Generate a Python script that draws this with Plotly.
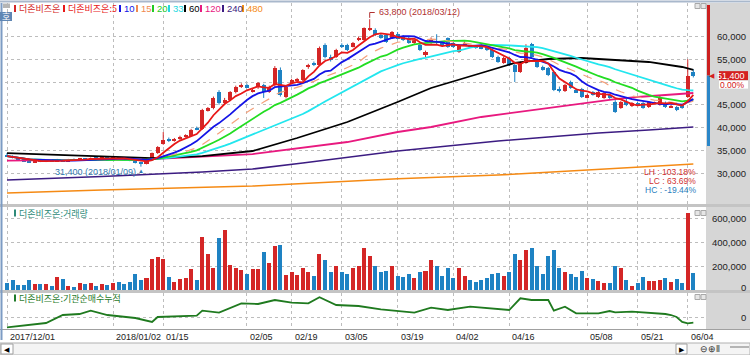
import numpy as np
import pandas as pd
import plotly.graph_objects as go

# ---------------- DATA ----------------
holidays = ["2017-12-25", "2017-12-29", "2018-01-01", "2018-02-15", "2018-02-16",
            "2018-03-01", "2018-05-01", "2018-05-07", "2018-05-22"]
dates = [d.strftime("%Y/%m/%d") for d in pd.bdate_range("2017-12-01", "2018-06-05")
         if d.strftime("%Y-%m-%d") not in holidays]

opens = [34000,33700,33300,33000,32600,32400,32700,32500,32800,32600,
         32900,32600,33000,32900,33200,33000,33300,33100,33400,33200,
         33400,33100,32900,32700,32300,32000,33000,34300,36300,37300,
         37100,37500,38000,38200,39900,39600,43800,44200,47900,45400,
         46000,47800,49000,49300,48000,48900,49300,47800,49300,52600,
         46700,49800,50400,50400,53200,54200,53700,58100,55500,55500,
         58100,58100,57800,59200,59200,61500,61400,60300,60300,59700,
         60500,59900,59700,58600,58100,55900,58600,59000,58600,59600,
         58600,56600,58300,57800,57700,57600,57700,57000,55500,54200,
         55300,53700,52200,54200,58300,54800,53300,53100,52200,48500,
         48000,50000,48200,48500,46700,47800,46700,46500,47100,45600,
         44300,45600,44700,45400,45400,44500,45200,44900,45400,44500,
         44500,44900,46700,52100]
highs = [34400,33900,33500,33200,32900,32900,32900,33000,32900,33100,
         33000,33100,33200,33300,33300,33400,33500,33500,33500,33600,
         33500,33200,33100,32800,32500,33100,34500,35900,39000,37800,
         37700,38200,38500,39700,40200,44100,44500,46800,48200,46500,
         48000,49200,49700,49600,48500,50000,49600,49200,53500,53200,
         49200,50700,50900,52800,54000,54500,57800,58500,56000,57300,
         58500,58400,58800,60000,62000,63800,61800,60600,60500,61200,
         61000,60300,59900,59700,58400,56900,59800,60500,59000,59800,
         58800,58300,58900,58200,58000,57900,58000,57300,55800,55600,
         55600,54000,54500,58300,58600,55200,53600,53300,52400,49000,
         49600,50300,48600,48700,47400,48000,48000,47800,47400,46000,
         45800,46500,45600,45600,45600,45800,45700,47000,45700,45000,
         44700,45000,55000,52800]
lows = [33600,33200,32900,32500,32200,32300,32400,32400,32500,32500,
        32500,32500,32800,32800,32900,32900,33000,33000,33100,33100,
        33000,32800,32600,32100,31400,31900,32900,34200,36200,36800,
        36900,37300,37800,38100,39400,39500,43500,44000,45000,45000,
        45800,47500,48700,48700,47700,48500,46500,47600,49000,46800,
        46400,49500,50100,50200,52900,53500,53500,55200,54500,55300,
        57500,56800,57600,59000,59000,61200,60100,59500,58600,59500,
        59400,59000,58400,58400,56800,55500,58400,58300,57700,57500,
        57500,56400,58100,57500,57300,57200,56800,55300,54200,54000,
        53500,50000,52000,54000,55300,53100,52500,51300,48000,47700,
        47800,48500,47600,46500,46400,47000,46500,46300,46300,43200,
        44100,44700,44500,44800,44100,44300,45100,44800,44300,44300,
        43600,44100,46500,51000]
closes = [33700,33300,33000,32600,32400,32700,32500,32800,32600,32900,
          32600,33000,32900,33200,33000,33300,33100,33400,33200,33400,
          33100,32900,32700,32300,32000,32900,34300,35700,37300,37100,
          37500,38000,38200,39500,39600,43800,44200,46400,45400,46000,
          47800,48900,49300,48900,48200,49800,47800,48900,53100,47100,
          48900,50400,50600,52600,53700,53800,57500,55500,54800,57000,
          57800,57000,58600,59700,61900,61900,60300,59700,58800,61000,
          59500,59200,58600,59400,57000,56600,59300,58700,57900,57700,
          57700,58100,58600,57700,57600,57400,57000,55500,54400,55300,
          53700,52200,54200,57500,55500,53300,52700,51500,48200,48000,
          49300,48700,47800,46700,47100,47100,47800,47600,46500,43400,
          45600,44900,45400,45000,44300,45600,45500,46700,44500,44800,
          43850,44300,51400,51400]
volumes = [61000,83000,42000,42000,83000,47000,50000,47000,36000,106000,
           92000,36000,22000,56000,50000,56000,36000,50000,42000,56000,
           64000,47000,64000,131000,83000,97000,256000,272000,256000,106000,
           64000,89000,97000,172000,83000,439000,297000,181000,431000,500000,
           208000,186000,167000,131000,175000,175000,314000,222000,367000,378000,
           125000,147000,125000,180000,150000,120000,300000,250000,150000,200000,
           150000,130000,180000,200000,350000,280000,200000,150000,160000,200000,
           120000,110000,130000,100000,150000,160000,250000,200000,120000,180000,
           100000,180000,120000,80000,70000,80000,100000,130000,140000,120000,
           150000,300000,250000,330000,350000,200000,130000,280000,330000,180000,
           150000,130000,110000,160000,100000,90000,75000,60000,56000,200000,
           181000,83000,33000,56000,106000,75000,75000,83000,97000,69000,
           92000,56000,644000,144000]

# long moving averages (day index, value)
ma60_idx = [0, 10, 18, 26, 35, 44, 52, 61, 70, 76, 85, 91, 97, 103, 109, 115, 121, 123]
ma60_val = [34390, 33950, 33510, 33290, 33730, 34830, 37690, 41210, 45600, 48680,
            51980, 54180, 55050, 55270, 54830, 54400, 53300, 52640]
ma120_idx = [0, 26, 44, 53, 61, 70, 76, 85, 94, 103, 109, 113, 123]
ma120_val = [32740, 33070, 34170, 35490, 36810, 39010, 40110, 42310, 43850, 45380,
             46260, 46700, 47580]
ma240_idx = [0, 17, 35, 44, 53, 61, 70, 79, 88, 97, 106, 115, 123]
ma240_val = [28460, 29230, 30220, 30880, 32190, 33510, 34830, 35930, 37030, 37910,
             38790, 39450, 40110]
ma480_idx = [0, 17, 44, 70, 88, 106, 123]
ma480_val = [25600, 26260, 27140, 28740, 29560, 30880, 31980]

# institutional cumulative net buying (day index, value)
inst_idx = [0, 7, 10, 13, 15, 18, 23, 26, 27, 34, 35, 38, 42, 45, 48, 51, 54, 56, 59,
            63, 67, 73, 76, 79, 83, 87, 90, 92, 94, 97, 98, 100, 102, 106, 108, 109,
            112, 118, 119, 120, 121, 122, 123]
inst_val = [-10300, -6000, 2000, 3000, 6300, 2000, -1000, -5000, 0, 1300, 6300, 4300,
            13700, 13000, 17000, 14300, 13700, 19700, 12000, 11000, 7700, 4300, 9300,
            7000, 10300, 8700, 7000, 18700, 17000, 17000, 6300, 10300, 3700, 3700, 6000,
            4700, 5300, 3000, 2000, 0, -5000, -6300, -5700]

tick_dates = ["2017/12/01", "2018/01/02", "2018/01/15", "2018/02/05", "2018/02/19",
              "2018/03/05", "2018/03/19", "2018/04/02", "2018/04/16", "2018/05/08",
              "2018/05/21", "2018/06/04"]
tick_labels = ["2017/12/01", "2018/01/02", "01/15", "02/05", "02/19", "03/05",
               "03/19", "04/02", "04/16", "05/08", "05/21", "06/04"]
price_ticks = [30000, 35000, 40000, 45000, 50000, 55000, 60000]
vol_ticks = [0, 200000, 400000, 600000]

legend_items = ["더존비즈온", "더존비즈온:5", "10", "15", "20", "33", "60", "120", "240", "480"]
legend_colors = ["#d42626", "#e81818", "#1414e6", "#f08a50", "#22cc22", "#22d8e0",
                 "#000000", "#e8197f", "#3c1c82", "#f58a14"]
ma_short = [(5, "#e81818"), (10, "#1414e6"), (15, "#f5a07a"), (20, "#22dd22"), (33, "#22e6ee")]

# ---------------- FIGURE ----------------
W, H = 750, 355
NUM = "Liberation Sans, Arial, sans-serif"
KR = "Noto Sans CJK KR, Noto Sans, sans-serif"
RED, BLUE = "#d42626", "#1e82c3"

n = len(closes)
x = list(range(n))
cl = pd.Series(closes, dtype=float)
up = [c >= o for o, c in zip(opens, closes)]
cols = [RED if u else BLUE for u in up]

fig = go.Figure()

# candle wicks
for flag, col in [(True, RED), (False, BLUE)]:
    wx, wy = [], []
    for i in range(n):
        if up[i] == flag:
            wx += [i, i, None]
            wy += [lows[i], highs[i], None]
    fig.add_trace(go.Scatter(x=wx, y=wy, mode="lines", line=dict(color=col, width=1),
                             hoverinfo="skip", xaxis="x", yaxis="y"))

# long MAs
for idx, val, col, w in [(ma480_idx, ma480_val, "#f58a14", 1.6),
                         (ma240_idx, ma240_val, "#3c1c82", 1.6),
                         (ma120_idx, ma120_val, "#e8197f", 1.8),
                         (ma60_idx, ma60_val, "#000000", 1.8)]:
    fig.add_trace(go.Scatter(x=idx, y=val, mode="lines", line=dict(color=col, width=w),
                             xaxis="x", yaxis="y"))

# candle bodies
body_base = [min(o, c) for o, c in zip(opens, closes)]
body_len = [max(abs(c - o), 120) for o, c in zip(opens, closes)]
fig.add_trace(go.Bar(x=x, y=body_len, base=body_base, width=0.72,
                     marker=dict(color=cols, line=dict(width=0)), xaxis="x", yaxis="y"))

# short MAs computed from closes
for p, col in ma_short[::-1]:
    m = cl.rolling(p, min_periods=1).mean()
    dash = "dash" if p == 15 else "solid"
    wdt = 1.2 if p == 15 else 1.8
    fig.add_trace(go.Scatter(x=x, y=m, mode="lines", line=dict(color=col, width=wdt, dash=dash),
                             xaxis="x", yaxis="y"))

# volume
fig.add_trace(go.Bar(x=x, y=volumes, width=0.72, marker=dict(color=cols, line=dict(width=0)),
                     xaxis="x2", yaxis="y2"))

# institutional cumulative
fig.add_trace(go.Scatter(x=inst_idx, y=inst_val, mode="lines",
                         line=dict(color="#1f7a1f", width=1.8), xaxis="x3", yaxis="y3"))

# ---------------- AXES ----------------
X0PX, STEP = 7.0, 5.58
PL, PR = 5, 706
xr = [(PL - X0PX) / STEP, (PR - X0PX) / STEP]
tick_idx = [dates.index(d) for d in tick_dates]

def ydom(top, bot):
    return [1 - bot / H, 1 - top / H]

PX_PER_K = 4.55
def price_at(py):
    return 60000 - (py - 36.5) / PX_PER_K * 1000
def px_of(price):
    return 36.5 + (60000 - price) / 1000 * PX_PER_K

MAIN_T, MAIN_B = 3, 204
VOL_T, VOL_B = 207, 290
IND_T, IND_B = 293, 329
vol_top = (VOL_B - VOL_T) * 600000 / (VOL_B - 218)
ind_rng = [-(IND_B - 317) * 1000, (317 - IND_T) * 1000]

xcommon = dict(range=xr, domain=[PL / W, PR / W], tickvals=tick_idx, showticklabels=False,
               showgrid=True, gridcolor="#bdbdbd", griddash="dot", gridwidth=1,
               zeroline=False, showline=False, ticks="", fixedrange=True)
ycommon = dict(side="right", showticklabels=False, showgrid=True, gridcolor="#bdbdbd",
               griddash="dot", gridwidth=1, zeroline=False, showline=False, ticks="")

fig.update_layout(
    width=W, height=H, margin=dict(l=0, r=0, t=0, b=0),
    paper_bgcolor="white", plot_bgcolor="white", showlegend=False,
    barmode="overlay", bargap=0,
    xaxis=dict(xcommon, anchor="y"),
    xaxis2=dict(xcommon, anchor="y2", matches="x"),
    xaxis3=dict(xcommon, anchor="y3", matches="x"),
    yaxis=dict(ycommon, domain=ydom(MAIN_T, MAIN_B), range=[price_at(MAIN_B), price_at(MAIN_T)],
               tickvals=price_ticks),
    yaxis2=dict(ycommon, domain=ydom(VOL_T, VOL_B), range=[0, vol_top], tickvals=vol_ticks[1:]),
    yaxis3=dict(ycommon, domain=ydom(IND_T, IND_B), range=ind_rng, tickvals=[0]),
)

shapes = []
ann = []

def pxr(x0, x1, y0, y1, **kw):
    d = dict(type="rect", xref="paper", yref="paper", x0=x0 / W, x1=x1 / W, y0=1 - y1 / H, y1=1 - y0 / H)
    d.update(kw)
    return d

def ptxt(xp, yp, text, size, color, family=None, xanchor="left", **kw):
    d = dict(x=xp / W, y=1 - yp / H, xref="paper", yref="paper", text=text, showarrow=False,
             font=dict(size=size, color=color, family=family or NUM), xanchor=xanchor, yanchor="middle")
    d.update(kw)
    return d

# right gray panel
shapes.append(pxr(706, 750, 3, 329, fillcolor="#d6d6d6", line=dict(width=0), layer="below"))
# panel separators & frame
for yy, c, wdt in [(1.5, "#a9b8cc", 2), (205.5, "#c4c4c4", 3), (291.5, "#c4c4c4", 3), (329.5, "#a0a0a0", 1)]:
    shapes.append(dict(type="line", xref="paper", yref="paper", x0=0, x1=1, y0=1 - yy / H, y1=1 - yy / H,
                       line=dict(color=c, width=wdt)))
shapes.append(dict(type="line", xref="paper", yref="paper", x0=1.5 / W, x1=1.5 / W, y0=1 - 340 / H, y1=1 - 3 / H,
                   line=dict(color="#7d9cc4", width=2)))
# bottom scrollbar area
shapes.append(pxr(0, 750, 343, 355, fillcolor="#f4f4f4", line=dict(color="#b0b0b0", width=1)))
shapes.append(pxr(1, 13, 344, 354, fillcolor="#ffffff", line=dict(color="#a0a0a0", width=1)))
shapes.append(pxr(676, 687, 344, 354, fillcolor="#ffffff", line=dict(color="#a0a0a0", width=1)))
ann.append(ptxt(7, 349.5, "◀", 7, "#000", xanchor="center"))
ann.append(ptxt(681.5, 349.5, "▶", 7, "#000", xanchor="center"))
ann.append(ptxt(710, 349, "⊖⊕⦀", 9, "#333", xanchor="center"))
shapes.append(dict(type="line", xref="paper", yref="paper", x0=730 / W, x1=749 / W, y0=1 - 347 / H, y1=1 - 347 / H,
                   line=dict(color="#777", width=1)))

# top-left widgets
shapes.append(pxr(3, 10, 3.5, 8, fillcolor="#b5b5b5", line=dict(width=0)))
shapes.append(pxr(0, 12, 12, 21, fillcolor="#5f86b4", line=dict(width=0)))
ann.append(ptxt(6, 16.5, "호", 9, "white", family=KR, xanchor="center"))
# small panel buttons
for yy in [6, 213, 297]:
    for xx in [695, 701]:
        shapes.append(pxr(xx, xx + 5, yy - 2.5, yy + 2.5, fillcolor="#e6e6e6",
                          line=dict(color="#a8a8a8", width=1)))

# legend items: colour bar + text
leg_x = [14, 63, 119, 136, 152, 168, 184, 200, 222, 242]
for px_, t, c in zip(leg_x, legend_items, legend_colors):
    shapes.append(pxr(px_, px_ + 2, 5, 12, fillcolor=c, line=dict(width=0)))
    is_kr = any(ord(ch) > 0x3000 for ch in t)
    ann.append(ptxt(px_ + 2.5, 8.5, t, 9 if is_kr else 9.5, c, family=KR if is_kr else NUM))
for yy, t, c in [(213, "더존비즈온:거래량", "#2e8a78"), (298, "더존비즈온:기관순매수누적", "#1f7a2a")]:
    shapes.append(pxr(14, 16, yy - 3.5, yy + 3.5, fillcolor=c, line=dict(width=0)))
    ann.append(ptxt(16.5, yy, t, 9, c, family=KR))

# right tick labels (the one hidden behind the current-price box is omitted there)
last = closes[-1]
for v in price_ticks:
    if abs(px_of(v) - px_of(last)) < 11:
        continue
    ann.append(dict(x=748 / W, y=v, xref="paper", yref="y", text=f"{v:,}", showarrow=False,
                    font=dict(size=9.5, family=NUM, color="#222"), xanchor="right", yanchor="middle"))
for v in vol_ticks:
    ann.append(dict(x=748 / W, y=v, xref="paper", yref="y2", text=f"{v:,}", showarrow=False,
                    font=dict(size=9.5, family=NUM, color="#222"), xanchor="right", yanchor="middle",
                    yshift=3 if v == 0 else 0))
ann.append(dict(x=748 / W, y=0, xref="paper", yref="y3", text="0", showarrow=False,
                font=dict(size=9.5, family=NUM, color="#222"), xanchor="right", yanchor="middle"))

# date labels
for i, lab in zip(tick_idx, tick_labels):
    ann.append(dict(x=i, y=1 - 336.5 / H, xref="x3", yref="paper", text=lab, showarrow=False,
                    font=dict(size=9, family=NUM, color="#222"), xanchor="left", yanchor="middle", xshift=1))

# high / low markers
hi_i = int(np.argmax(highs)); lo_i = int(np.argmin(lows))
hi_v = highs[hi_i]; lo_v = lows[lo_i]
ytag = price_at(12.5)
shapes.append(dict(type="line", xref="x", yref="y", x0=hi_i, x1=hi_i, y0=hi_v + 300, y1=ytag,
                   line=dict(color="#b03030", width=1)))
shapes.append(dict(type="line", xref="x", yref="y", x0=hi_i, x1=hi_i + 0.9, y0=ytag, y1=ytag,
                   line=dict(color="#b03030", width=1)))
ann.append(dict(x=hi_i + 1.3, y=ytag, xref="x", yref="y", text=f"{hi_v:,} ({dates[hi_i]})", showarrow=False,
                font=dict(size=9, family=NUM, color="#b03030"), xanchor="left", yanchor="middle"))
ann.append(dict(x=lo_i - 0.6, y=price_at(172), xref="x", yref="y", text=f"{lo_v:,} ({dates[lo_i]})",
                showarrow=False, font=dict(size=9, family=NUM, color="#2f78b0"), xanchor="right",
                yanchor="middle"))
ann.append(dict(x=lo_i, y=price_at(171), xref="x", yref="y", text="▲", showarrow=False,
                font=dict(size=6, color="#2f78b0"), xanchor="center", yanchor="middle"))

# LH/LC/HC
LH = (hi_v / lo_v - 1) * 100
LC = (last / lo_v - 1) * 100
HC = (last / hi_v - 1) * 100
for k, (lab, val, c) in enumerate([("LH", LH, "#d03030"), ("LC", LC, "#d03030"), ("HC", HC, "#2a80c0")]):
    ann.append(ptxt(698, 172 + 8.8 * k, f"{lab} : {val:.2f}%", 8.5, c, xanchor="right"))

# current price marker
chg = (closes[-1] / closes[-2] - 1) * 100
py_last = px_of(last)
shapes.append(pxr(707, 710, 5, py_last, fillcolor="#cc1f1f", line=dict(width=0)))
shapes.append(pxr(707, 710, py_last, 146, fillcolor="#2a86c8", line=dict(width=0)))
shapes.append(pxr(719, 748, py_last - 4.5, py_last + 4.5, fillcolor="#d42020", line=dict(width=0)))
shapes.append(pxr(719, 748, py_last + 5, py_last + 13, fillcolor="#ffffff", line=dict(width=0)))
ann.append(ptxt(747, py_last, f"{last:,}", 9, "white", xanchor="right"))
ann.append(ptxt(717, py_last, "◀", 7, "#d42020", xanchor="right"))
ann.append(ptxt(747, py_last + 9.5, f"{chg:.2f}%", 8.5, "#d42020", xanchor="right"))

fig.update_layout(shapes=shapes, annotations=ann)
fig.write_html("out.html")
